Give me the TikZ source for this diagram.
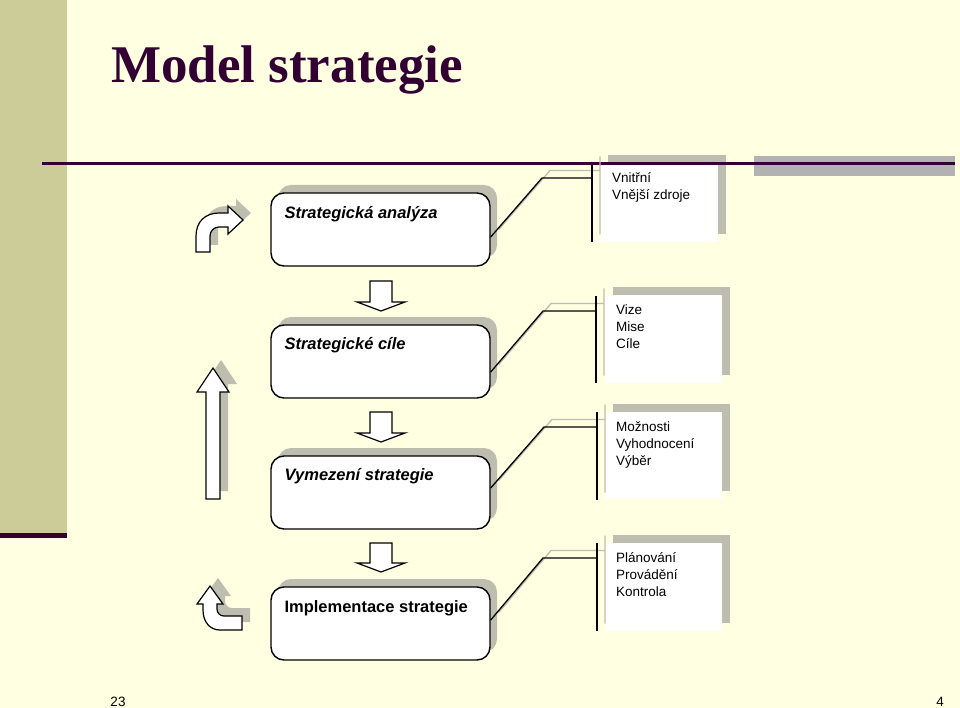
\documentclass[tikz,border=0pt]{standalone}
\usepackage{fontspec}
\setmainfont{Liberation Sans}
\newfontfamily\titlefont{Liberation Serif}
\usetikzlibrary{calc,shadows}
\definecolor{bgcol}{RGB}{255,255,225}
\definecolor{barcol}{RGB}{204,204,153}
\definecolor{darkline}{RGB}{51,0,51}
\definecolor{shadecol}{RGB}{190,190,176}
\definecolor{graybar}{RGB}{178,178,178}
\begin{document}
\begin{tikzpicture}[x=1pt,y=-1pt,
  mainbox/.style={draw=black, line width=1.4pt, fill=white, rounded corners=13pt,
    minimum width=219pt, minimum height=73pt, inner sep=0pt,
    general shadow={shadow xshift=7pt, shadow yshift=8pt, fill=shadecol, draw=none}},
  callout/.style={fill=white, draw=none, inner sep=0pt,
    general shadow={shadow xshift=8pt, shadow yshift=8pt, fill=shadecol, draw=none}},
  boxtext/.style={font=\fontsize{16.5}{20}\selectfont\bfseries, inner sep=0pt, anchor=base west},
  calltext/.style={font=\fontsize{13.5}{17}\selectfont, align=left, inner sep=0pt, anchor=north west},
  conn/.style={draw=black, line width=1.3pt},
  connshade/.style={draw=shadecol, line width=1.3pt},
  blockarrow/.style={draw=black, fill=white, line width=1.2pt, line join=miter},
  arrowshade/.style={fill=shadecol, draw=none},
  pagenum/.style={font=\fontsize{13.5}{15}\selectfont, inner sep=0pt, anchor=base}
]
\useasboundingbox (0,0) rectangle (960,708);
% background
\fill[bgcol] (0,0) rectangle (960,708);
\fill[barcol] (0,0) rectangle (67,533);
\fill[darkline] (0,533) rectangle (67,538);
\node[anchor=base west, inner sep=0pt, text=darkline, font=\titlefont\bfseries\fontsize{53}{60}\selectfont] (title) at (111,83) {Model strategie};

% callout boxes
\node[callout, minimum width=118pt, minimum height=79pt] (c1) at (659,202.5) {};
\node[callout, minimum width=117pt, minimum height=88pt] (c2) at (663.5,339) {};
\node[callout, minimum width=117pt, minimum height=87pt] (c3) at (663.5,455.5) {};
\node[callout, minimum width=117pt, minimum height=88pt] (c4) at (663.5,587) {};

\node[calltext] (t1) at ($(c1.north west)+(12,8)$) {\strut Vnitřní\\Vnější zdroje};
\node[calltext] (t2) at ($(c2.north west)+(11,7.2)$) {\strut Vize\\Mise\\Cíle};
\node[calltext] (t3) at ($(c3.north west)+(11,7.2)$) {\strut Možnosti\\Vyhodnocení\\Výběr};
\node[calltext] (t4) at ($(c4.north west)+(11,7.2)$) {\strut Plánování\\Provádění\\Kontrola};

% top rule and grey bar
\fill[graybar] (754,156) rectangle (955,176);
\draw[darkline, line width=2.5pt] (42,163.5) -- (955,163.5);

% main boxes
\node[mainbox] (b1) at (380.5,229.5) {};
\node[mainbox] (b2) at (380.5,361.5) {};
\node[mainbox] (b3) at (380.5,492.5) {};
\node[mainbox] (b4) at (380.5,623.5) {};

\node[boxtext] (l1) at ($(b1.north west)+(14,26)$) {\itshape Strategická analýza};
\node[boxtext] (l2) at ($(b2.north west)+(14,25)$) {\itshape Strategické cíle};
\node[boxtext] (l3) at ($(b3.north west)+(14,25)$) {\itshape Vymezení strategie};
\node[boxtext] (l4) at ($(b4.north west)+(14,26)$) {Implementace strategie};

% connector coordinates
\coordinate (s1) at ($(b1.east)+(0,7.5)$);
\coordinate (e1) at (542,178);
\coordinate (v1) at (592,178);
\coordinate (v1t) at (592,164);
\coordinate (v1b) at (592,242);

\coordinate (s2) at ($(b2.east)+(0,10.5)$);
\coordinate (e2) at (543,311);
\coordinate (v2) at (596,311);
\coordinate (v2t) at (596,296);
\coordinate (v2b) at (596,383);

\coordinate (s3) at ($(b3.east)+(0,-4.5)$);
\coordinate (e3) at (544,427);
\coordinate (v3) at (597,427);
\coordinate (v3t) at (597,412);
\coordinate (v3b) at (597,500);

\coordinate (s4) at ($(b4.east)+(0,-3.5)$);
\coordinate (e4) at (543,558);
\coordinate (v4) at (597,558);
\coordinate (v4t) at (597,543);
\coordinate (v4b) at (597,631);

\foreach \i in {1,2,3,4}{
  \draw[connshade] ($(s\i)+(8,-7.5)$) -- ($(e\i)+(8,-7.5)$) -- ($(v\i)+(8,-7.5)$)
                   ($(v\i t)+(8,-7.5)$) -- ($(v\i b)+(8,-7.5)$);
}
\foreach \i in {1,2,3,4}{
  \draw[conn] (s\i) -- (e\i) -- (v\i);
  \draw[conn] (v\i t) -- (v\i b);
}

% down arrows between boxes
\draw[blockarrow] (370,281) -- (392,281) -- (392,302) -- (405,302) -- (381,311) -- (357,302) -- (370,302) -- cycle;
\draw[blockarrow] (370,412) -- (392,412) -- (392,433) -- (405,433) -- (381,442) -- (357,433) -- (370,433) -- cycle;
\draw[blockarrow] (370,543) -- (392,543) -- (392,563) -- (405,563) -- (381,572) -- (357,563) -- (370,563) -- cycle;

% up arrow (left)
\fill[arrowshade] (214,491) -- (214,384) -- (205,384) -- (221,360) -- (237,384) -- (228,384) -- (228,491) -- cycle;
\draw[blockarrow] (206,499) -- (206,392) -- (197,392) -- (213,368) -- (229,392) -- (220,392) -- (220,499) -- cycle;

% bent arrow top-left
\fill[arrowshade] (204,245) -- (204,229) .. controls (204,215) and (213,206) .. (227,206) -- (236,206) -- (236,199) -- (251,213) -- (236,227) -- (236,220) -- (227,220) .. controls (222,220) and (218,224) .. (218,229) -- (218,245) -- cycle;
\draw[blockarrow] (196,252) -- (196,236) .. controls (196,222) and (205,213) .. (219,213) -- (228,213) -- (228,206) -- (243,220) -- (228,234) -- (228,227) -- (219,227) .. controls (214,227) and (210,231) .. (210,236) -- (210,252) -- cycle;

% bent arrow bottom-left
\fill[arrowshade] (250,622) -- (228,622) .. controls (218,622) and (211,614) .. (211,602) -- (211,596) -- (205,596) -- (218,578) -- (231,596) -- (225,596) -- (225,601) .. controls (225,605) and (228,608) .. (232,608) -- (250,608) -- cycle;
\draw[blockarrow] (242,630) -- (220,630) .. controls (210,630) and (203,622) .. (203,610) -- (203,604) -- (197,604) -- (210,586) -- (223,604) -- (217,604) -- (217,609) .. controls (217,613) and (220,616) .. (224,616) -- (242,616) -- cycle;

% page numbers
\node[pagenum] (p1) at (118,706) {23};
\node[pagenum] (p2) at (940,706) {4};
\end{tikzpicture}
\end{document}
